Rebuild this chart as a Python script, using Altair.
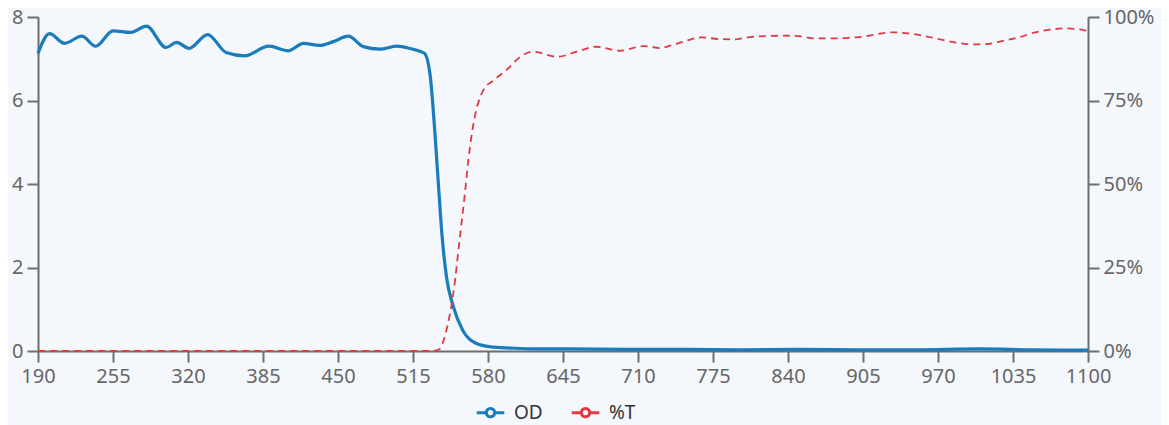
import altair as alt
import pandas as pd

# OD curve (wavelength nm, optical density)
od_wl = [190, 200, 213, 228, 240, 255, 270, 284, 301, 310, 321, 337, 353, 369, 390, 407,
         420, 434, 446, 459, 472, 486, 501, 512, 521, 525, 530, 534, 537, 540, 544, 550,
         558, 570, 582, 600, 620, 650, 700, 750, 800, 850, 900, 950, 1006, 1050, 1100]
od_val = [7.13, 7.6, 7.37, 7.54, 7.3, 7.67, 7.63, 7.78, 7.27, 7.39, 7.25, 7.58, 7.15, 7.07, 7.3, 7.19,
          7.37, 7.32, 7.41, 7.54, 7.29, 7.23, 7.3, 7.25, 7.18, 7.13, 6.57, 5.22, 4.0, 2.82, 1.78, 1.06,
          0.5, 0.18, 0.10, 0.07, 0.05, 0.05, 0.04, 0.04, 0.03, 0.04, 0.03, 0.03, 0.05, 0.03, 0.02]

# %T curve (wavelength nm, transmission %)
t_wl = [190, 400, 530, 537, 544, 550, 556, 560, 563, 567, 576, 585, 596, 608, 619, 640, 657,
        674, 694, 715, 729, 738, 752, 765, 780, 793, 807, 836, 849, 862, 876, 902, 931, 944,
        957, 972, 986, 1004, 1012, 1027, 1040, 1054, 1067, 1080, 1096, 1100]
t_val = [0, 0, 0, 0.3, 6.3, 17.3, 35.2, 47.2, 57.2, 67.2, 78.1, 81.1, 84.1, 88.1, 89.6, 88.1, 89.6,
         91.1, 89.9, 91.3, 90.7, 91.4, 92.9, 93.9, 93.4, 93.3, 94.0, 94.4, 94.3, 93.6, 93.6, 94.0, 95.4, 95.1,
         94.4, 93.3, 92.3, 91.8, 91.9, 92.9, 93.9, 95.4, 96.2, 96.6, 96.1, 95.8]

x_ticks = [190, 255, 320, 385, 450, 515, 580, 645, 710, 775, 840, 905, 970, 1035, 1100]
od_ticks = [0, 2, 4, 6, 8]
t_ticks = [0, 25, 50, 75, 100]
series = ["OD", "%T"]
colors = ["#1a7bbd", "#e0393e"]

od_df = pd.DataFrame({"wl": od_wl, "val": od_val, "series": "OD"})
t_df = pd.DataFrame({"wl": t_wl, "val": t_val, "series": "%T"})

FONT = "Noto Sans"
AX = "#6e6e6e"

legend_path = "M-1,0H-0.3 M0.3,0H1 M-0.3,0A0.3,0.3 0 1,0 0.3,0A0.3,0.3 0 1,0 -0.3,0"

color = alt.Color("series:N",
                  scale=alt.Scale(domain=series, range=colors),
                  legend=alt.Legend(title=None, orient="none", direction="horizontal",
                                    legendX=437, legendY=380,
                                    symbolType=legend_path, symbolSize=760,
                                    symbolStrokeWidth=3, symbolFillColor="#ffffff",
                                    symbolDash=[1, 0],
                                    labelFont=FONT, labelFontSize=19, labelColor="#333333",
                                    labelOffset=8, columnPadding=22, padding=0))

x = alt.X("wl:Q", scale=alt.Scale(domain=[190, 1100], nice=False, zero=False),
          axis=alt.Axis(title=None, values=x_ticks, labelFlush=False, grid=False, format="d"))

od_line = alt.Chart(od_df).mark_line(strokeWidth=3.2, interpolate="monotone").encode(
    x=x,
    y=alt.Y("val:Q", scale=alt.Scale(domain=[0, 8], nice=False),
            axis=alt.Axis(title=None, values=od_ticks, grid=False, orient="left")),
    color=color,
)

t_line = alt.Chart(t_df).mark_line(strokeWidth=1.8, strokeDash=[7, 5], interpolate="monotone").encode(
    x=x,
    y=alt.Y("val:Q", scale=alt.Scale(domain=[0, 100], nice=False),
            axis=alt.Axis(title=None, values=t_ticks, grid=False, orient="right",
                          labelExpr="datum.value + '%'")),
    color=color,
)

chart = alt.layer(od_line, t_line).resolve_scale(y="independent").properties(
    width=1050, height=334,
    autosize=alt.AutoSizeParams(type="none"),
    padding={"left": 30, "top": 9, "right": 73, "bottom": 74},
    background="#f4f7fb",
).configure_view(stroke=None).configure_axis(
    domainColor=AX, domainWidth=2, tickColor=AX, tickWidth=2, tickSize=11,
    labelFont=FONT, labelFontSize=20, labelColor="#666666", labelPadding=4,
)

chart.save("out.html", embed_options={"renderer": "svg", "actions": False})
